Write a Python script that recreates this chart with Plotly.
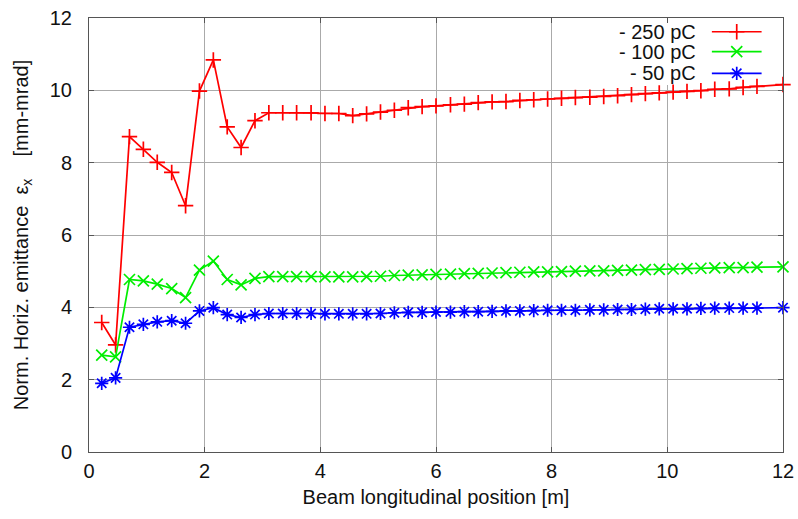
import plotly.graph_objects as go

# Beam longitudinal position [m]
position = [0.22, 0.46, 0.70, 0.94, 1.18, 1.43, 1.67, 1.91, 2.15, 2.39,
            2.63, 2.87, 3.11, 3.35, 3.59, 3.84, 4.08, 4.32, 4.56, 4.80,
            5.04, 5.28, 5.52, 5.76, 6.00, 6.25, 6.49, 6.73, 6.97, 7.21,
            7.45, 7.69, 7.93, 8.17, 8.41, 8.66, 8.90, 9.14, 9.38, 9.62,
            9.86, 10.10, 10.34, 10.58, 10.82, 11.07, 11.31, 11.55, 12.0]

emit_250pC = [3.58, 2.96, 8.72, 8.37, 8.01, 7.73, 6.81, 9.98, 10.84, 8.99,
              8.42, 9.16, 9.38, 9.38, 9.38, 9.38, 9.36, 9.36, 9.30, 9.35,
              9.40, 9.45, 9.52, 9.55, 9.57, 9.60, 9.62, 9.66, 9.68, 9.69,
              9.72, 9.74, 9.76, 9.78, 9.80, 9.81, 9.83, 9.85, 9.88, 9.91,
              9.93, 9.95, 9.97, 9.99, 10.03, 10.04, 10.08, 10.11, 10.16]

emit_100pC = [2.68, 2.63, 4.77, 4.73, 4.64, 4.52, 4.27, 5.03, 5.28, 4.77,
              4.62, 4.80, 4.85, 4.85, 4.85, 4.85, 4.84, 4.84, 4.84, 4.85,
              4.86, 4.88, 4.89, 4.90, 4.91, 4.92, 4.93, 4.94, 4.95, 4.96,
              4.97, 4.98, 4.98, 4.99, 5.00, 5.01, 5.01, 5.02, 5.03, 5.04,
              5.05, 5.06, 5.07, 5.08, 5.09, 5.10, 5.10, 5.11, 5.12]

emit_50pC = [1.90, 2.05, 3.45, 3.53, 3.60, 3.63, 3.56, 3.90, 3.99, 3.80,
             3.72, 3.80, 3.83, 3.83, 3.83, 3.83, 3.82, 3.82, 3.82, 3.82,
             3.83, 3.85, 3.86, 3.86, 3.87, 3.87, 3.88, 3.88, 3.89, 3.90,
             3.90, 3.91, 3.92, 3.92, 3.92, 3.93, 3.93, 3.94, 3.94, 3.95,
             3.96, 3.96, 3.96, 3.97, 3.98, 3.98, 3.98, 3.98, 3.99]

series_names = ["- 250 pC", "- 100 pC", "- 50 pC"]
series_values = [emit_250pC, emit_100pC, emit_50pC]
colors = ["#ff0000", "#00ee00", "#0000ff"]
symbols = ["cross-thin", "x-thin", "asterisk"]

x_ticks = [0, 2, 4, 6, 8, 10, 12]
y_ticks = [0, 2, 4, 6, 8, 10, 12]

FONT = "Liberation Sans, Arial, sans-serif"
FS = 20

fig = go.Figure()

for name, vals, col, sym in zip(series_names, series_values, colors, symbols):
    fig.add_trace(go.Scatter(
        x=position, y=vals, mode="lines+markers", name=name,
        line=dict(color=col, width=1.7),
        marker=dict(symbol=sym, size=11, color=col,
                    line=dict(color=col, width=1.7)),
        showlegend=False, cliponaxis=False,
    ))

# gnuplot-style key: right-aligned text, sample on the right
key_y = [11.62, 11.07, 10.47]
for name, col, sym, ky in zip(series_names, colors, symbols, key_y):
    fig.add_trace(go.Scatter(
        x=[10.77, 11.20, 11.63], y=[ky, ky, ky], mode="lines",
        line=dict(color=col, width=1.7), showlegend=False, hoverinfo="skip"))
    fig.add_trace(go.Scatter(
        x=[11.20], y=[ky], mode="markers",
        marker=dict(symbol=sym, size=11, color=col,
                    line=dict(color=col, width=1.7)),
        showlegend=False, hoverinfo="skip"))
    fig.add_annotation(x=10.53, y=ky, xref="x", yref="y", text=name,
                       showarrow=False, xanchor="right", yanchor="middle",
                       font=dict(family=FONT, size=FS, color="#111"))

# opaque key box (hides grid behind key)
fig.add_shape(type="rect", x0=8.97, x1=12, y0=10.15, y1=12,
              xref="x", yref="y", fillcolor="white", line=dict(width=0),
              layer="between")

axis_common = dict(
    showline=True, linecolor="#555", linewidth=1, mirror="ticks",
    showgrid=True, gridcolor="#aaaaaa", gridwidth=1.3,
    ticks="inside", ticklen=5, tickcolor="#555",
    zeroline=False, automargin=False,
    tickfont=dict(family=FONT, size=FS, color="#111"),
)

fig.update_xaxes(range=[0, 12], tickvals=x_ticks, **axis_common,
                 title=dict(text="Beam longitudinal position [m]",
                            font=dict(family=FONT, size=FS, color="#111"),
                            standoff=8),
                 ticklabelstandoff=1)
fig.update_yaxes(range=[0, 12], tickvals=y_ticks, **axis_common,
                 title=dict(text="Norm. Horiz. emittance  ε<sub>x</sub>    [mm-mrad]",
                            font=dict(family=FONT, size=FS, color="#111"),
                            standoff=15),
                 ticklabelstandoff=12)

fig.update_layout(
    width=798, height=519,
    margin=dict(l=89, r=15, t=18, b=67, autoexpand=False),
    paper_bgcolor="white", plot_bgcolor="white",
    showlegend=False,
)

fig.write_html("out.html")
